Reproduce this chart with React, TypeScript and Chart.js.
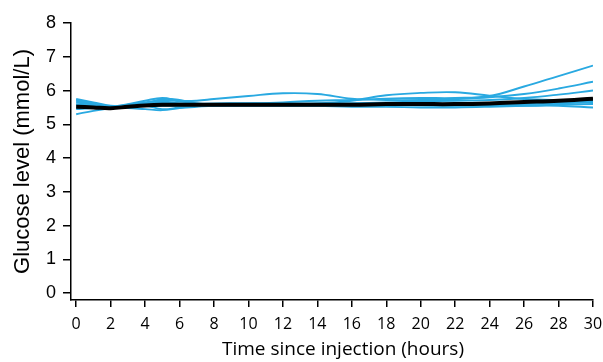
import React, { useEffect, useRef } from "react";
import { Chart, registerables } from "chart.js";

Chart.register(...registerables);

const hours = [0, 1, 2, 3, 4, 5, 6, 7, 8, 10, 12, 14, 16, 18, 20, 22, 24, 26, 28, 30];
const xTicks = [0, 2, 4, 6, 8, 10, 12, 14, 16, 18, 20, 22, 24, 26, 28, 30];
const yTicks = [0, 1, 2, 3, 4, 5, 6, 7, 8];
const xTitle = "Time since injection (hours)";
const yTitle = "Glucose level (mmol/L)";

const meanLevel = [5.52, 5.5, 5.48, 5.52, 5.56, 5.58, 5.58, 5.58, 5.58, 5.58, 5.58, 5.58, 5.58, 5.6, 5.6, 5.6, 5.62, 5.66, 5.7, 5.76];

const subjectA = [5.72, 5.62, 5.52, 5.6, 5.7, 5.78, 5.7, 5.7, 5.75, 5.84, 5.92, 5.9, 5.76, 5.72, 5.72, 5.75, 5.8, 5.9, 6.06, 6.26];
const subjectB = [5.65, 5.58, 5.52, 5.55, 5.62, 5.68, 5.62, 5.6, 5.6, 5.62, 5.62, 5.62, 5.7, 5.86, 5.93, 5.95, 5.85, 5.75, 5.72, 5.72];
const subjectC = [5.55, 5.52, 5.5, 5.55, 5.62, 5.65, 5.62, 5.6, 5.6, 5.62, 5.65, 5.7, 5.72, 5.76, 5.78, 5.78, 5.84, 6.12, 6.43, 6.74];
const subjectD = [5.3, 5.4, 5.48, 5.55, 5.6, 5.62, 5.6, 5.58, 5.58, 5.6, 5.6, 5.6, 5.62, 5.65, 5.68, 5.7, 5.72, 5.78, 5.88, 6.0];
const subjectE = [5.6, 5.55, 5.5, 5.48, 5.45, 5.42, 5.48, 5.52, 5.55, 5.55, 5.55, 5.55, 5.55, 5.56, 5.56, 5.56, 5.58, 5.6, 5.62, 5.65];
const subjectF = [5.75, 5.65, 5.55, 5.55, 5.6, 5.75, 5.72, 5.62, 5.6, 5.6, 5.6, 5.58, 5.58, 5.58, 5.56, 5.55, 5.55, 5.55, 5.55, 5.5];
const subjectG = [5.45, 5.48, 5.5, 5.52, 5.55, 5.55, 5.55, 5.55, 5.55, 5.55, 5.55, 5.55, 5.52, 5.52, 5.5, 5.5, 5.52, 5.55, 5.58, 5.6];
const subjectH = [5.68, 5.6, 5.52, 5.58, 5.65, 5.72, 5.68, 5.62, 5.6, 5.6, 5.6, 5.6, 5.6, 5.6, 5.6, 5.62, 5.62, 5.65, 5.67, 5.68];
const subjectI = [5.5, 5.5, 5.5, 5.52, 5.55, 5.45, 5.5, 5.55, 5.55, 5.57, 5.57, 5.57, 5.57, 5.57, 5.57, 5.58, 5.6, 5.62, 5.64, 5.66];
const subjectJ = [5.58, 5.52, 5.5, 5.55, 5.6, 5.62, 5.6, 5.6, 5.62, 5.62, 5.6, 5.62, 5.62, 5.62, 5.62, 5.6, 5.62, 5.64, 5.68, 5.72];

const subjects = [subjectA, subjectB, subjectC, subjectD, subjectE, subjectF, subjectG, subjectH, subjectI, subjectJ];

const BLUE = "#29a9e1";

const xTitlePlugin = {
  id: "xTitleText",
  afterDraw(chart: any) {
    const ctx = chart.ctx;
    ctx.save();
    ctx.fillStyle = "#000";
    ctx.font = "19px 'Open Sans'";
    ctx.textAlign = "center";
    ctx.textBaseline = "middle";
    ctx.fillText(xTitle, 343, 350);
    ctx.restore();
  },
};

export default function App() {
  const ref = useRef<HTMLCanvasElement | null>(null);

  useEffect(() => {
    document.body.style.margin = "0";
    const canvas = ref.current;
    if (!canvas) return;
    const toPts = (arr: number[]) => arr.map((v, i) => ({ x: hours[i], y: v }));
    const datasets: any[] = [
      {
        data: toPts(meanLevel),
        borderColor: "#000000",
        borderWidth: 4,
        pointRadius: 0,
        tension: 0.4,
        fill: false,
      },
      ...subjects.map((s) => ({
        data: toPts(s),
        borderColor: BLUE,
        borderWidth: 1.9,
        pointRadius: 0,
        tension: 0.4,
        fill: false,
      })),
    ];
    const chart = new Chart(canvas, {
      type: "line",
      data: { datasets },
      plugins: [xTitlePlugin],
      options: {
        animation: false,
        responsive: false,
        maintainAspectRatio: false,
        layout: { padding: { left: 0, right: 10, top: 23, bottom: 0 } },
        plugins: { legend: { display: false }, tooltip: { enabled: false } },
        scales: {
          x: {
            type: "linear",
            min: -0.3,
            max: 30,
            afterBuildTicks: (axis: any) => {
              axis.ticks = xTicks.map((v) => ({ value: v }));
            },
            afterFit: (scale: any) => {
              scale.height = 62;
              scale.paddingLeft = 0;
              scale.paddingRight = 0;
            },
            grid: {
              display: true,
              drawOnChartArea: false,
              drawTicks: true,
              tickLength: 7,
              color: "#000",
              lineWidth: 1.5,
            },
            border: { display: true, color: "#000", width: 1.5 },
            ticks: {
              color: "#000",
              padding: 8,
              maxRotation: 0,
              autoSkip: false,
              font: { family: "'Open Sans'", size: 16 },
            },
            title: { display: false, text: xTitle },
          },
          y: {
            type: "linear",
            min: -0.2,
            max: 8,
            afterBuildTicks: (axis: any) => {
              axis.ticks = yTicks.map((v) => ({ value: v }));
            },
            afterFit: (scale: any) => {
              scale.width = 71;
              scale.paddingTop = 0;
              scale.paddingBottom = 0;
            },
            grid: {
              display: true,
              drawOnChartArea: false,
              drawTicks: true,
              tickLength: 8,
              color: "#000",
              lineWidth: 1.5,
            },
            border: { display: true, color: "#000", width: 1.5 },
            ticks: {
              color: "#000",
              padding: 7,
              font: { family: "'Liberation Sans'", size: 18 },
            },
            title: {
              display: true,
              text: yTitle,
              color: "#000",
              padding: { top: 10, bottom: 0 },
              font: { family: "'Liberation Sans'", size: 22 },
            },
          },
        },
      },
    });
    return () => chart.destroy();
  }, []);

  return (
    <div style={{ width: 603, height: 362 }}>
      <canvas ref={ref} width={603} height={362} style={{ width: 603, height: 362 }} />
    </div>
  );
}
